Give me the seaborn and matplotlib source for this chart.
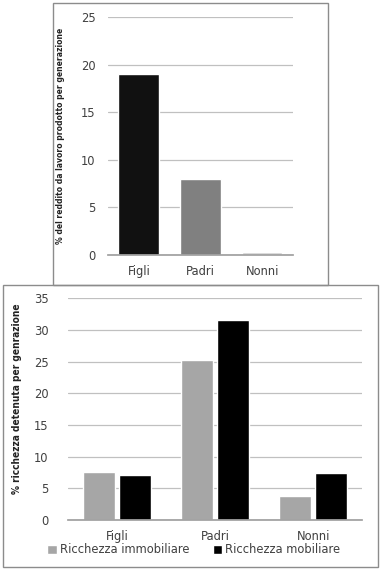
import pandas as pd
import matplotlib
matplotlib.use("Agg")
import matplotlib.pyplot as plt
from matplotlib.patches import Rectangle, Patch
from matplotlib import font_manager
import seaborn as sns

# top chart: share of labour income per generation
generazioni = ["Figli", "Padri", "Nonni"]
reddito_lavoro = [19.0, 8.0, 0.35]

# bottom chart: share of wealth held per generation
ricchezza_immobiliare = [7.65, 25.3, 3.85]
ricchezza_mobiliare = [7.05, 31.5, 7.4]
serie = ["Ricchezza immobiliare", "Ricchezza mobiliare"]

sns.set_theme(style="white")
plt.rcParams["font.family"] = ["DejaVu Sans"]

# pick a narrow family for the axis titles if one is around
installed = {f.name for f in font_manager.fontManager.ttflist}
narrow = [n for n in ["Liberation Sans Narrow", "Arial Narrow", "DejaVu Sans Condensed"] if n in installed]
label_font = narrow + ["DejaVu Sans"]
tick_color = "#404040"
grid_color = "#c0c0c0"

fig = plt.figure(figsize=(3.8, 5.69), dpi=100)

# frames around the two charts
fig.patches.append(Rectangle((0.139, 0.499), 0.724, 0.496, transform=fig.transFigure,
                             fill=False, edgecolor="#8c8c8c", linewidth=1.0))
fig.patches.append(Rectangle((0.008, 0.0035), 0.987, 0.496, transform=fig.transFigure,
                             fill=False, edgecolor="#8c8c8c", linewidth=1.0))


def style_axes(ax, ymax, step, ypad):
    ax.set_ylim(0, ymax)
    ax.set_yticks(range(0, ymax + 1, step))
    ax.yaxis.grid(True, color=grid_color, linewidth=0.9)
    ax.set_axisbelow(True)
    for side in ["top", "right", "left"]:
        ax.spines[side].set_visible(False)
    ax.spines["bottom"].set_color("#a0a0a0")
    ax.tick_params(axis="x", length=0, pad=7, labelsize=8.3, labelcolor=tick_color)
    ax.tick_params(axis="y", length=0, pad=ypad, labelsize=8.3, labelcolor=tick_color)
    ax.set_xlabel("")


def fit_ylabel(ax, text, size, target_px, coords):
    lab = ax.set_ylabel(text, family=label_font, fontsize=size, fontweight="bold",
                        fontstretch="condensed", color="#222222")
    ax.yaxis.set_label_coords(*coords)
    fig.canvas.draw()
    h = lab.get_window_extent().height
    lab.set_fontsize(size * target_px / h)


# --- top chart
ax1 = fig.add_axes([0.284, 0.5518, 0.487, 0.418])
df1 = pd.DataFrame({"gen": generazioni, "val": reddito_lavoro})
sns.barplot(data=df1, x="gen", y="val", hue="gen", legend=False,
            palette=["#111111", "#808080", "#d3d3d3"], width=0.66,
            saturation=1, ax=ax1)
style_axes(ax1, 25, 5, 9)
ax1.set_xlim(-0.5, 2.5)

# --- bottom chart
ax2 = fig.add_axes([0.179, 0.0861, 0.774, 0.390])
df2 = pd.DataFrame({
    "gen": generazioni * 2,
    "tipo": [serie[0]] * 3 + [serie[1]] * 3,
    "val": ricchezza_immobiliare + ricchezza_mobiliare,
})
sns.barplot(data=df2, x="gen", y="val", hue="tipo", hue_order=serie,
            palette=["#a6a6a6", "#000000"], width=0.74, gap=0.11,
            saturation=1, legend=False, ax=ax2)
style_axes(ax2, 35, 5, 14)
ax2.set_xlim(-0.5, 2.5)

fit_ylabel(ax1, "% del reddito da lavoro prodotto per generazione", 8.5, 214, (-0.232, 0.5))
fit_ylabel(ax2, "% ricchezza detenuta per genrazione", 9.5, 192, (-0.156, 0.545))

handles = [Patch(facecolor="#a6a6a6"), Patch(facecolor="#000000")]
fig.legend(handles, serie, loc="center", bbox_to_anchor=(0.51, 0.034), ncol=2,
           frameon=False, fontsize=8.3, labelcolor=tick_color,
           handlelength=0.8, handleheight=0.8, handletextpad=0.3,
           columnspacing=2.0, borderpad=0)

fig.savefig("out.png", dpi=100)
